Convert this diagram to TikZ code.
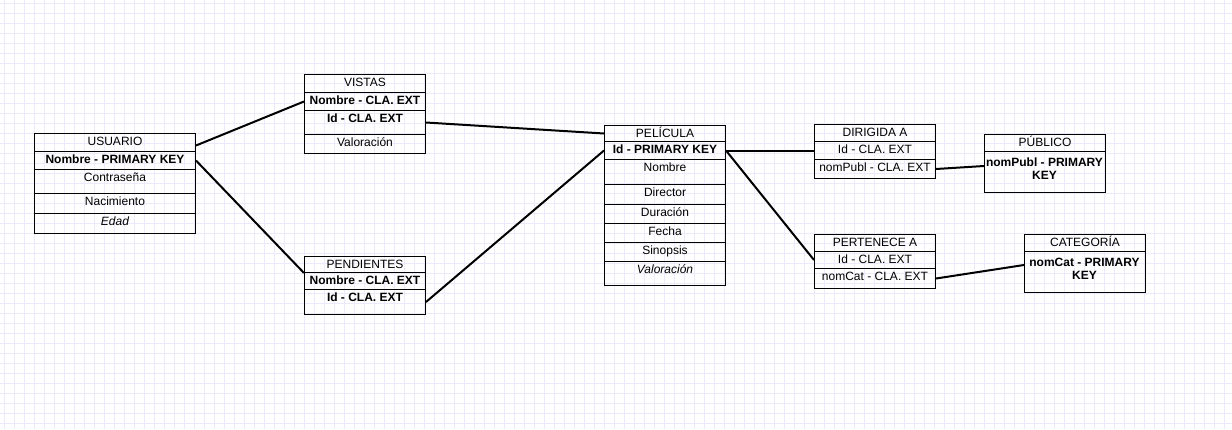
\documentclass[tikz,border=0pt]{standalone}
\usepackage{fontspec}
\setmainfont{Liberation Sans}
\definecolor{rejilla}{RGB}{234,234,250}

\begin{document}
\begin{tikzpicture}[x=0.75pt,y=-0.75pt,
        fila/.style={draw,line width=0.75pt,inner sep=0pt,anchor=north west,
            minimum width=90.75pt,text height=9.2pt,font=\fontsize{9}{10.5}\selectfont},
        alto/.style={text depth=#1},
        clave/.style={font=\fontsize{9}{10.5}\selectfont\bfseries},
        enlace/.style={line width=1.5pt}]

    \useasboundingbox (0,0) rectangle (1232,429);
    \fill[white] (0,0) rectangle (1232,429);

    % Grid
    \foreach \x in {4.5,14.5,...,1230} \draw[rejilla,line width=0.75pt] (\x,0) -- (\x,429);
    \foreach \y in {3.5,13.5,...,429} \draw[rejilla,line width=0.75pt] (0,\y) -- (1232,\y);

    % USUARIO
    \node[fila,minimum width=120.75pt,alto=4.3pt] (usu-h) at (34,133) {USUARIO};
    \node[fila,minimum width=120.75pt,alto=4.3pt,clave] (usu-1) at (34,151) {Nombre - PRIMARY KEY};
    \node[fila,minimum width=120.75pt,alto=8.8pt] (usu-2) at (34,169) {Contraseña};
    \node[fila,minimum width=120.75pt,alto=5.8pt] (usu-3) at (34,193) {Nacimiento};
    \node[fila,minimum width=120.75pt,alto=5.8pt] (usu-4) at (34,213) {\itshape Edad};

    % VISTAS
    \node[fila,alto=4.3pt] (vis-h) at (304,74) {VISTAS};
    \node[fila,alto=4.3pt,clave] (vis-1) at (304,92) {Nombre - CLA. EXT};
    \node[fila,alto=8.8pt,clave] (vis-2) at (304,110) {Id - CLA. EXT};
    \node[fila,alto=5.05pt] (vis-3) at (304,134) {Valoración};

    % PENDIENTES
    \node[fila,alto=2.8pt] (pen-h) at (304,256) {PENDIENTES};
    \node[fila,alto=3.55pt,clave] (pen-1) at (304,272) {Nombre - CLA. EXT};
    \node[fila,alto=9.55pt,clave] (pen-2) at (304,289) {Id - CLA. EXT};

    % PELICULA
    \node[fila,alto=2.8pt] (pel-h) at (604,125) {PELÍCULA};
    \node[fila,alto=4.3pt,clave] (pel-1) at (604,141) {Id - PRIMARY KEY};
    \node[fila,alto=9.55pt] (pel-2) at (604,159) {Nombre};
    \node[fila,alto=5.8pt] (pel-3) at (604,184) {Director};
    \node[fila,alto=5.05pt] (pel-4) at (604,204) {Duración};
    \node[fila,alto=5.05pt] (pel-5) at (604,223) {Fecha};
    \node[fila,alto=5.05pt] (pel-6) at (604,242) {Sinopsis};
    \node[fila,alto=8.8pt] (pel-7) at (604,261) {\itshape Valoración};

    % DIRIGIDA A
    \node[fila,alto=3.55pt] (dir-h) at (814,124) {DIRIGIDA A};
    \node[fila,alto=4.3pt] (dir-1) at (814,141) {Id - CLA. EXT};
    \node[fila,alto=5.05pt] (dir-2) at (814,159) {nomPubl - CLA. EXT};

    % PERTENECE A
    \node[fila,alto=3.55pt] (per-h) at (814,234) {PERTENECE A};
    \node[fila,alto=3.55pt] (per-1) at (814,251) {Id - CLA. EXT};
    \node[fila,alto=5.8pt] (per-2) at (814,268) {nomCat - CLA. EXT};

    % PUBLICO
    \node[fila,alto=3.55pt] (pub-h) at (984,134) {PÚBLICO};
    \node[fila,text height=0pt,alto=30.75pt] (pub-1) at (984,151) {};
    \node[align=center,anchor=north,font=\fontsize{9}{9.75}\selectfont\bfseries] (pub-1-t) at (1044.5,153) {nomPubl - PRIMARY\\KEY};

    % CATEGORIA
    \node[fila,alto=3.55pt] (cat-h) at (1024,234) {CATEGORÍA};
    \node[fila,text height=0pt,alto=30.75pt] (cat-1) at (1024,251) {};
    \node[align=center,anchor=north,font=\fontsize{9}{9.75}\selectfont\bfseries] (cat-1-t) at (1084.5,253) {nomCat - PRIMARY\\KEY};

    % Relations
    \draw[enlace] ([yshift=-2.25pt]usu-h.east) -- (vis-1.west);
    \draw[enlace] (usu-1.east) -- (pen-h.south west);
    \draw[enlace] (vis-2.east) -- (pel-h.west);
    \draw[enlace] (pen-2.east) -- (pel-1.west);
    \draw[enlace] (pel-1.east) -- (dir-1.west);
    \draw[enlace] (pel-1.east) -- (per-1.west);
    \draw[enlace] (dir-2.east) -- ([yshift=4.5pt]pub-1.west);
    \draw[enlace] (per-2.east) -- ([yshift=5.25pt]cat-1.west);
\end{tikzpicture}
\end{document}
